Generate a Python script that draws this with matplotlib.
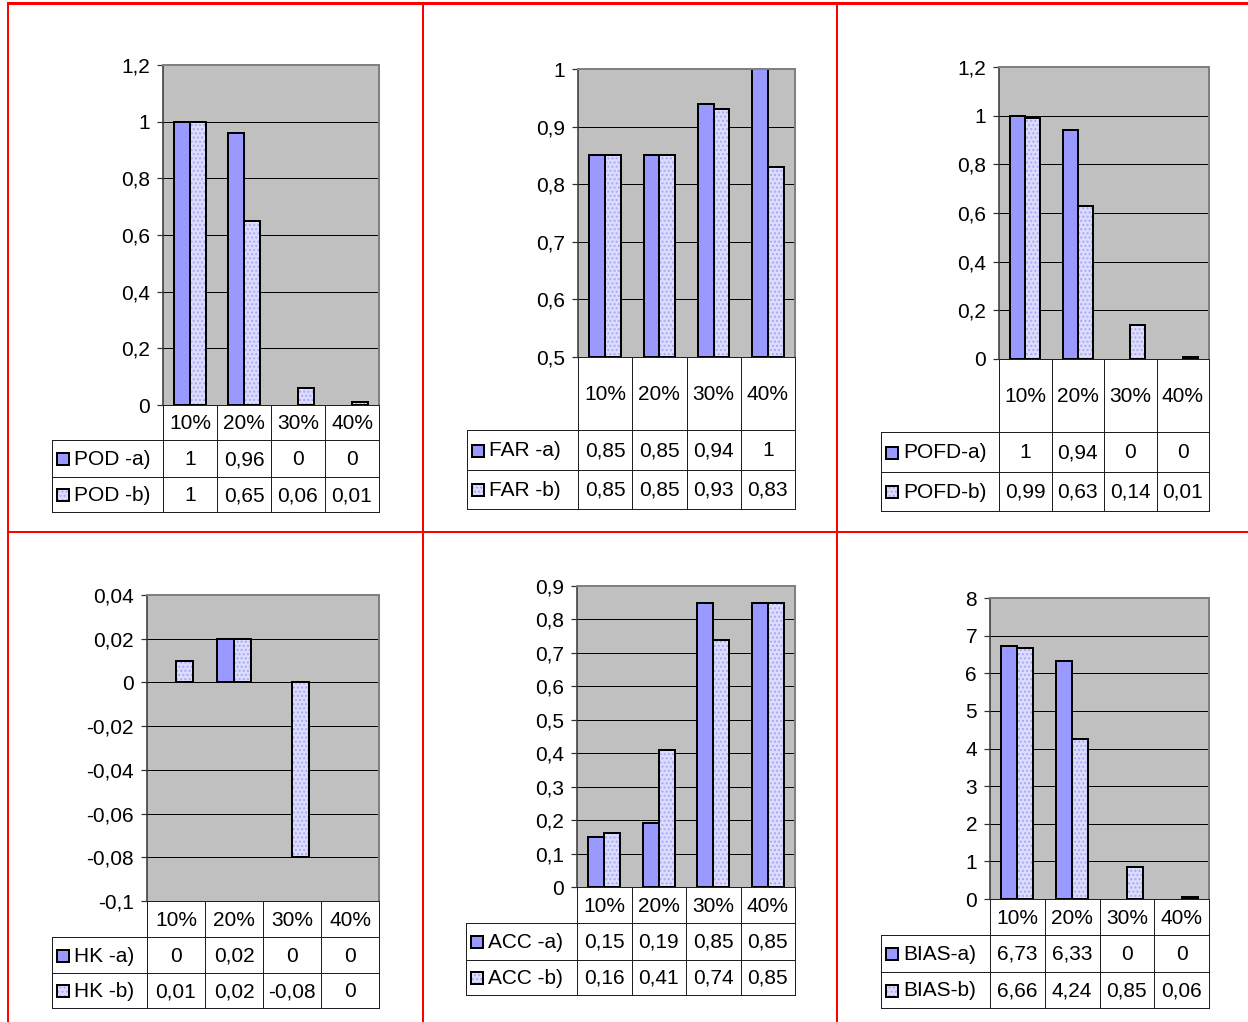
import matplotlib
matplotlib.use("Agg")
import matplotlib.pyplot as plt
from matplotlib.patches import Rectangle
from matplotlib.ticker import FixedLocator, FuncFormatter

plt.rcParams['font.family'] = ['Liberation Sans', 'DejaVu Sans']
plt.rcParams['hatch.linewidth'] = 1.0

W, H = 1248, 1022

# data
categories = ['10%', '20%', '30%', '40%']

pod_a = [1, 0.96, 0, 0]
pod_b = [1, 0.65, 0.06, 0.01]
far_a = [0.85, 0.85, 0.94, 1]
far_b = [0.85, 0.85, 0.93, 0.83]
pofd_a = [1, 0.94, 0, 0]
pofd_b = [0.99, 0.63, 0.14, 0.01]
hk_a = [0, 0.02, 0, 0]
hk_b = [0.01, 0.02, -0.08, 0]
acc_a = [0.15, 0.19, 0.85, 0.85]
acc_b = [0.16, 0.41, 0.74, 0.85]
bias_a = [6.73, 6.33, 0, 0]
bias_b = [6.66, 4.24, 0.85, 0.06]

series_labels = [('POD -a)', 'POD -b)'), ('FAR -a)', 'FAR -b)'), ('POFD-a)', 'POFD-b)'),
                 ('HK -a)', 'HK -b)'), ('ACC -a)', 'ACC -b)'), ('BIAS-a)', 'BIAS-b)')]
series_values = [(pod_a, pod_b), (far_a, far_b), (pofd_a, pofd_b),
                 (hk_a, hk_b), (acc_a, acc_b), (bias_a, bias_b)]
y_ranges = [(0, 1.2, 0.2), (0.5, 1.0, 0.1), (0, 1.2, 0.2),
            (-0.1, 0.04, 0.02), (0, 0.9, 0.1), (0, 8, 1)]

# layout in pixels: plot box (left, top, right, bottom), table left, row bottoms
layout = [
    ((163, 65, 379, 405), 52, (440, 477, 512)),
    ((578, 69, 795, 357), 467, (430, 470, 509)),
    ((999, 67, 1209, 359), 881, (432, 472, 511)),
    ((147, 595, 379, 901), 52, (937, 973, 1008)),
    ((577, 586, 795, 887), 466, (923, 960, 995)),
    ((990, 598, 1209, 899), 881, (935, 972, 1008)),
]

COL_A = '#9999FF'
COL_B = '#DCDCFF'
HATCH_B = '#A8A8F4'
GRAY = '#C0C0C0'
FS = 15
PX = 0.72  # points per pixel


def fmt(v):
    v = round(v, 6)
    if v == 0:
        return '0'
    return f'{v:g}'.replace('.', ',')


fig = plt.figure(figsize=(W / 100, H / 100), dpi=100)

# overlay for table + red frame (pixel coordinates)
ov = fig.add_axes([0, 0, 1, 1], zorder=5)
ov.set_xlim(0, W)
ov.set_ylim(H, 0)
ov.axis('off')
ov.patch.set_alpha(0)

for (box, tl, rows), labels, vals, (y0, y1, step) in zip(layout, series_labels, series_values, y_ranges):
    l, t, r, b = box
    ax = fig.add_axes([l / W, 1 - b / H, (r - l) / W, (b - t) / H])
    ax.set_facecolor(GRAY)
    x = list(range(len(categories)))
    bw = 0.29
    base = y0 if y0 > 0 else 0
    va, vb = vals
    ha_ = [v - base for v in va]
    hb_ = [v - base for v in vb]
    lwa = [2 * PX if h != 0 else 0 for h in ha_]
    lwb = [2 * PX if h != 0 else 0 for h in hb_]
    xa = [i - bw / 2 for i in x]
    xb = [i + bw / 2 for i in x]
    ax.bar(xa, ha_, bw, bottom=base, color=COL_A, edgecolor='black', linewidth=lwa, zorder=2)
    ax.bar(xb, hb_, bw, bottom=base, color=COL_B, edgecolor=HATCH_B, hatch='....', linewidth=0, zorder=2)
    ax.bar(xb, hb_, bw, bottom=base, fill=False, edgecolor='black', linewidth=lwb, zorder=3)
    ax.set_xlim(-0.5, len(categories) - 0.5)
    ax.set_ylim(y0, y1)
    n = int(round((y1 - y0) / step))
    ticks = [y0 + k * step for k in range(n + 1)]
    ax.yaxis.set_major_locator(FixedLocator(ticks))
    ax.yaxis.set_major_formatter(FuncFormatter(lambda v, p: fmt(v)))
    ax.set_xticks([])
    ax.tick_params(axis='y', length=6 * PX, width=1.2 * PX, color='#303030',
                   labelsize=FS, pad=5)
    ax.set_axisbelow(True)
    ax.grid(axis='y', color='black', linewidth=1 * PX)
    ax.spines['left'].set_color('#303030')
    ax.spines['left'].set_linewidth(1.5 * PX)
    for s in ('top', 'right'):
        ax.spines[s].set_color('#808080')
        ax.spines[s].set_linewidth(2 * PX)
    ax.spines['bottom'].set_visible(False)

    # data table under the plot
    cw = (r - l) / len(categories)
    lc = dict(color='#202020', linewidth=1 * PX)
    hb, r1, r2 = rows
    ov.plot([l, r], [b, b], **lc)
    ov.plot([tl, r], [hb, hb], **lc)
    ov.plot([tl, r], [r1, r1], **lc)
    ov.plot([tl, r], [r2, r2], **lc)
    ov.plot([tl, tl], [hb, r2], **lc)
    for k in range(len(categories) + 1):
        ov.plot([l + k * cw, l + k * cw], [b, r2], **lc)
    for k, c in enumerate(categories):
        cx = l + (k + 0.5) * cw
        ov.text(cx, (b + hb) / 2 + 1, c, ha='center', va='center', fontsize=FS)
        ov.text(cx, (hb + r1) / 2 + 1, fmt(va[k]), ha='center', va='center', fontsize=FS)
        ov.text(cx, (r1 + r2) / 2 + 1, fmt(vb[k]), ha='center', va='center', fontsize=FS)
    for (ya, yb_), lab, key in (((hb, r1), labels[0], 'a'), ((r1, r2), labels[1], 'b')):
        cy = (ya + yb_) / 2 + 1
        if key == 'a':
            ov.add_patch(Rectangle((tl + 5, cy - 6), 12, 12, facecolor=COL_A,
                                   edgecolor='black', linewidth=2 * PX))
        else:
            ov.add_patch(Rectangle((tl + 5, cy - 6), 12, 12, facecolor=COL_B,
                                   edgecolor=HATCH_B, hatch='....', linewidth=0))
            ov.add_patch(Rectangle((tl + 5, cy - 6), 12, 12, fill=False,
                                   edgecolor='black', linewidth=2 * PX))
        ov.text(tl + 22, cy, lab, ha='left', va='center', fontsize=FS)

# red frame between the panels
red = dict(color='#FF0000', linewidth=2 * PX)
ov.plot([8, W], [3, 3], color='#FF0000', linewidth=3 * PX)
ov.plot([8, 8], [3, H], **red)
ov.plot([423, 423], [3, H], **red)
ov.plot([837, 837], [3, H], **red)
ov.plot([8, W], [532, 532], **red)

fig.savefig('out.png', dpi=100)
